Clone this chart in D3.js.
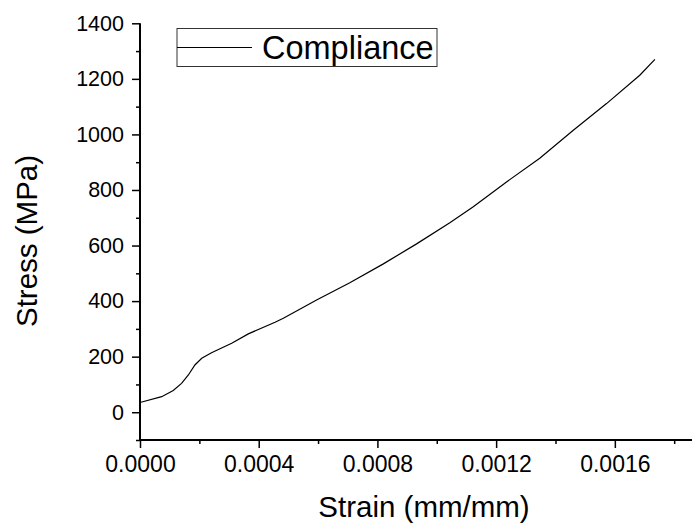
<!DOCTYPE html>
<html>
<head>
<meta charset="utf-8">
<script src="https://cdn.jsdelivr.net/npm/d3@7"></script>
<style>
  body { margin: 0; background: #fff; }
  text { font-family: "Liberation Sans", Arial, sans-serif; fill: #000; }
</style>
</head>
<body>
<div id="chart-area"></div>
<script>
// data
const strain = [0, 0.000073, 0.000112, 0.00014, 0.000163, 0.000185, 0.000208, 0.000241,
  0.000309, 0.000365, 0.000455, 0.000483, 0.000595, 0.000707, 0.00082, 0.000932,
  0.001044, 0.001123, 0.001235, 0.001347, 0.00146, 0.001572, 0.001684, 0.001735];
const stress = [35, 56, 78, 104, 134, 170, 194, 214,
  248, 282, 324, 338, 404, 466, 534, 606,
  682, 740, 829, 914, 1015, 1111, 1213, 1270];
const xTicks = [0, 0.0004, 0.0008, 0.0012, 0.0016];
const yTicks = [0, 200, 400, 600, 800, 1000, 1200, 1400];
const seriesName = 'Compliance';

const W = 692, H = 524;

let svg = d3.select('#chart-area')
  .append('svg')
  .attr('width', W)
  .attr('height', H);

const x = d3.scaleLinear()
  .domain([0, 0.00186])
  .range([140, 692]);

const y = d3.scaleLinear()
  .domain([-100, 1400])
  .range([440, 23.3]);

// X Axis (minor ticks, then major)
let xAxisGroup = svg.append('g')
  .attr('transform', `translate(0, ${y(-100)})`);
xAxisGroup.call(d3.axisBottom(x)
    .tickValues(d3.range(0.0002, 0.00185, 0.0004))
    .tickSize(4).tickFormat(''));
let xMajor = svg.append('g')
  .attr('transform', `translate(0, ${y(-100)})`)
  .call(d3.axisBottom(x)
    .tickValues(xTicks)
    .tickSize(8)
    .tickPadding(8)
    .tickFormat(d3.format('.4f')));
xMajor.select('.domain').remove();
xMajor.selectAll('text').attr('font-size', '23px');

// Y Axis
let yAxisGroup = svg.append('g')
  .attr('transform', `translate(${x(0)}, 0)`);
yAxisGroup.call(d3.axisLeft(y)
    .tickValues(d3.range(-100, 1400, 200))
    .tickSize(4).tickFormat(''));
let yMajor = svg.append('g')
  .attr('transform', `translate(${x(0)}, 0)`)
  .call(d3.axisLeft(y)
    .tickValues(yTicks)
    .tickSize(8)
    .tickPadding(8)
    .tickFormat(d3.format('d')));
yMajor.select('.domain').remove();
yMajor.selectAll('text').attr('font-size', '21.5px');

// axis lines without end caps
svg.selectAll('.domain').attr('stroke-width', 2);
xAxisGroup.select('.domain').attr('d', `M${x.range()[0]},0H${x.range()[1]}`);
yAxisGroup.select('.domain').attr('d', `M0,${y.range()[0]}V${y.range()[1]}`);
svg.selectAll('.tick line').attr('stroke-width', 1.5);

// curve
const pts = strain.map((s, i) => [s, stress[i]]);
svg.append('path')
  .datum(pts)
  .attr('fill', 'none')
  .attr('stroke', '#000')
  .attr('stroke-width', 1.2)
  .attr('d', d3.line().x(d => x(d[0])).y(d => y(d[1])));

// axis labels
svg.append('text')
  .attr('x', 424)
  .attr('y', 517)
  .attr('font-size', '29.5px')
  .attr('text-anchor', 'middle')
  .text('Strain (mm/mm)');

svg.append('text')
  .attr('transform', 'translate(37, 241) rotate(-90)')
  .attr('font-size', '29.5px')
  .attr('text-anchor', 'middle')
  .text('Stress (MPa)');

// legend
let legend = svg.append('g');
legend.append('rect')
  .attr('x', 177).attr('y', 28.5)
  .attr('width', 260).attr('height', 38)
  .attr('fill', 'none')
  .attr('stroke', '#333')
  .attr('stroke-width', 1);
legend.append('line')
  .attr('x1', 177).attr('x2', 252)
  .attr('y1', 47.5).attr('y2', 47.5)
  .attr('stroke', '#000')
  .attr('stroke-width', 1.2);
legend.append('text')
  .attr('x', 262)
  .attr('y', 58.5)
  .attr('font-size', '32.5px')
  .text(seriesName);
</script>
</body>
</html>
